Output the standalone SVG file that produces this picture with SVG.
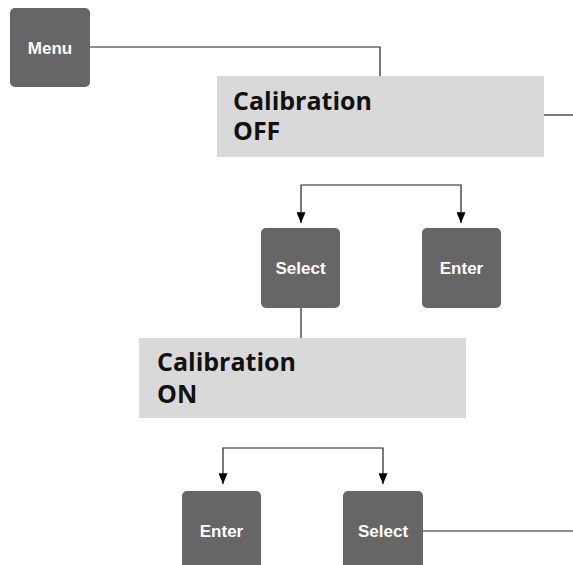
<svg xmlns="http://www.w3.org/2000/svg" width="573" height="565" viewBox="0 0 573 565">
<style>
.btn{fill:#666666}
.btxt{font-family:"Liberation Sans",Arial,sans-serif;font-weight:bold;font-size:17px;fill:#ffffff;text-anchor:middle}
.disp{fill:#d9d9d9}
.dtxt{font-family:"Open Sans","Noto Sans",sans-serif;font-weight:bold;font-size:25px;fill:#111111}
.ln{fill:none;stroke:#222222;stroke-width:1.2}
</style>
<defs>
<marker id="ah" viewBox="0 0 10 12" refX="5" refY="12" markerWidth="9" markerHeight="12" markerUnits="userSpaceOnUse" orient="0">
<path d="M0,0 L10,0 L5,12 Z" fill="#000"/>
</marker>
</defs>
<g id="connectors">
<polyline class="ln" points="90,47 380,47 380,76"/>
<line class="ln" x1="544" y1="115" x2="573" y2="115"/>
<polyline class="ln" points="301,223 301,185 461,185 461,223" marker-start="url(#ah)" marker-end="url(#ah)"/>
<line class="ln" x1="301" y1="308" x2="301" y2="338"/>
<polyline class="ln" points="223,484 223,448 383,448 383,484" marker-start="url(#ah)" marker-end="url(#ah)"/>
<line class="ln" x1="423" y1="531" x2="573" y2="531"/>
</g>
<g id="menu">
<rect class="btn" x="10" y="8" width="80" height="79" rx="5"/>
<text class="btxt" x="50" y="54">Menu</text>
</g>
<g id="cal-off">
<rect class="disp" x="217" y="76" width="327" height="81"/>
<text class="dtxt" x="233" y="110">Calibration</text>
<text class="dtxt" x="233" y="140">OFF</text>
</g>
<g id="select1">
<rect class="btn" x="261" y="228" width="79" height="80" rx="5"/>
<text class="btxt" x="300.5" y="274">Select</text>
</g>
<g id="enter1">
<rect class="btn" x="422" y="228" width="79" height="80" rx="5"/>
<text class="btxt" x="461.5" y="274">Enter</text>
</g>
<g id="cal-on">
<rect class="disp" x="139" y="338" width="327" height="80"/>
<text class="dtxt" x="157" y="371">Calibration</text>
<text class="dtxt" x="157" y="403">ON</text>
</g>
<g id="enter2">
<rect class="btn" x="182" y="491" width="79" height="90" rx="5"/>
<text class="btxt" x="221.5" y="537">Enter</text>
</g>
<g id="select2">
<rect class="btn" x="343" y="491" width="80" height="90" rx="5"/>
<text class="btxt" x="383" y="537">Select</text>
</g>
</svg>
